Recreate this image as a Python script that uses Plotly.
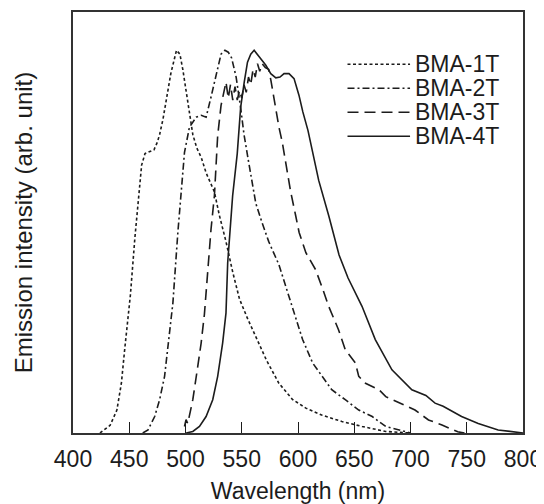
import plotly.graph_objects as go

# emission spectra (wavelength nm, normalised intensity)
wl_1t = [424, 433, 439, 443, 446, 449, 451, 455, 458, 461, 464, 468, 472, 475, 477, 480, 483, 487, 492,
         495, 497.6, 500.6, 503.5, 506.5, 510, 514, 518.3, 525.7, 530, 536, 542, 548, 555, 563, 572,
         583, 595, 607, 621, 639, 657, 678, 700]
int_1t = [0, 0.02, 0.06, 0.13, 0.22, 0.30, 0.36, 0.51, 0.61, 0.70, 0.73, 0.735, 0.74, 0.76, 0.78, 0.82, 0.87,
          0.94, 1.0, 0.99, 0.95, 0.89, 0.83, 0.78, 0.745, 0.72, 0.68, 0.63, 0.57, 0.50, 0.42, 0.35, 0.30,
          0.25, 0.19, 0.13, 0.088, 0.065, 0.047, 0.030, 0.017, 0.004, 0]

wl_2t = [462, 466.7, 472.6, 477, 481.4, 484.3, 487.3, 488.8, 493.2, 496.2, 499.1, 503.5, 509.5, 514, 518.3,
         522.7, 527.2, 531.6, 535, 538, 541, 545, 549, 552, 556, 562.5, 568, 574, 583, 590, 598, 604,
         613, 621.5, 630, 642, 654, 666, 678, 690, 700]
int_2t = [0, 0.008, 0.043, 0.087, 0.148, 0.218, 0.296, 0.34, 0.524, 0.637, 0.733, 0.799, 0.825, 0.83, 0.825,
          0.878, 0.934, 0.99, 1.0, 0.995, 0.98, 0.93, 0.85, 0.78, 0.71, 0.60, 0.55, 0.50, 0.44, 0.375,
          0.30, 0.245, 0.183, 0.148, 0.113, 0.087, 0.060, 0.043, 0.017, 0.008, 0]

wl_3t = [499.1, 500.5, 502, 506.5, 510.9, 513.9, 516.8, 519.7, 522.7, 525.7, 528.6, 531.6, 536, 538, 540,
         542, 544, 546, 548, 550, 552, 554, 556, 558, 560, 562, 564, 566, 568, 571, 574, 576, 580, 583,
         586, 590.5, 593.5, 598, 601, 607, 615.6, 621.5, 627.4, 636, 642, 651, 654, 660, 672, 678, 695,
         704, 716, 728, 742, 748]
int_3t = [0.017, 0.035, 0.025, 0.087, 0.174, 0.235, 0.31, 0.419, 0.533, 0.62, 0.777, 0.856, 0.917, 0.875,
          0.91, 0.87, 0.905, 0.87, 0.895, 0.875, 0.91, 0.89, 0.93, 0.91, 0.95, 0.93, 0.965, 0.945, 0.965,
          0.955, 0.95, 0.92, 0.85, 0.80, 0.76, 0.68, 0.63, 0.567, 0.524, 0.471, 0.427, 0.38, 0.33, 0.27,
          0.218, 0.183, 0.148, 0.130, 0.113, 0.095, 0.073, 0.060, 0.034, 0.021, 0.003, 0]

wl_4t = [500.6, 506.5, 512.4, 518.3, 524.2, 528.6, 533, 536, 537.5, 541.9, 546, 549, 552.2, 555.1, 558,
         561, 565.5, 571.4, 575.8, 580.3, 584, 587.6, 592, 596.5, 600.9, 604.3, 608.9, 613.6, 618.4,
         627.4, 636.5, 644.5, 656.9, 668.7, 683.5, 701.2, 713.7, 721.8, 729, 745.4, 760.2, 777.9, 797, 800]
int_4t = [0, 0.004, 0.017, 0.043, 0.087, 0.148, 0.235, 0.314, 0.445, 0.62, 0.73, 0.85, 0.917, 0.969, 0.99,
          1.0, 0.983, 0.961, 0.939, 0.928, 0.93, 0.939, 0.939, 0.926, 0.882, 0.839, 0.79, 0.726, 0.66,
          0.567, 0.465, 0.405, 0.331, 0.244, 0.165, 0.113, 0.098, 0.078, 0.070, 0.043, 0.025, 0.008,
          0.002, 0]

names = ["BMA-1T", "BMA-2T", "BMA-3T", "BMA-4T"]
dashes = ["3px,2.5px", "7px,3px,2px,3px", "11px,6px", "solid"]
x_ticks = [400, 450, 500, 550, 600, 650, 700, 750, 800]

ink = "#1c1c1c"
font = "Liberation Sans, Arial, sans-serif"

fig = go.Figure()
series = [(wl_1t, int_1t), (wl_2t, int_2t), (wl_3t, int_3t), (wl_4t, int_4t)]
for (wl, it), nm, ds in zip(series, names, dashes):
    fig.add_trace(go.Scatter(x=wl, y=it, mode="lines", name=nm,
                             line=dict(color=ink, width=1.6, dash=ds), showlegend=False))

# hand-made legend so the rows sit as tightly as in the original
row_y = [0.876, 0.819, 0.762, 0.705]
for nm, ds, ry in zip(names, dashes, row_y):
    fig.add_shape(type="line", xref="paper", yref="paper", x0=0.61, x1=0.749, y0=ry, y1=ry,
                  line=dict(color=ink, width=1.5, dash=ds))
    fig.add_annotation(text=nm, xref="paper", yref="paper", x=0.756, y=ry, xanchor="left",
                       yanchor="middle", showarrow=False, font=dict(size=23, color=ink, family=font))

fig.update_xaxes(range=[400, 800], tickvals=x_ticks, ticks="inside", ticklen=11, tickwidth=1.2,
                 tickcolor=ink, showline=True, linecolor="#333", linewidth=1.5, mirror=True,
                 showgrid=False, zeroline=False, tickfont=dict(size=23, color=ink), automargin=False,
                 ticklabelstandoff=5,
                 title=dict(text="Wavelength (nm)", font=dict(size=23, color=ink), standoff=13))
fig.update_yaxes(range=[0, 1.1], showticklabels=False, ticks="", showline=True, linecolor="#333",
                 linewidth=1.5, mirror=True, showgrid=False, zeroline=False, automargin=False,
                 title=dict(text="Emission intensity (arb. unit)", font=dict(size=24, color=ink),
                            standoff=32))

# the page body adds an 8px margin, so the figure is sized to fill the window after it
fig.update_layout(width=536, height=496, margin=dict(l=65, r=21, t=4, b=71),
                  paper_bgcolor="white", plot_bgcolor="white",
                  font=dict(family=font, color=ink))

fig.write_html("out.html")
